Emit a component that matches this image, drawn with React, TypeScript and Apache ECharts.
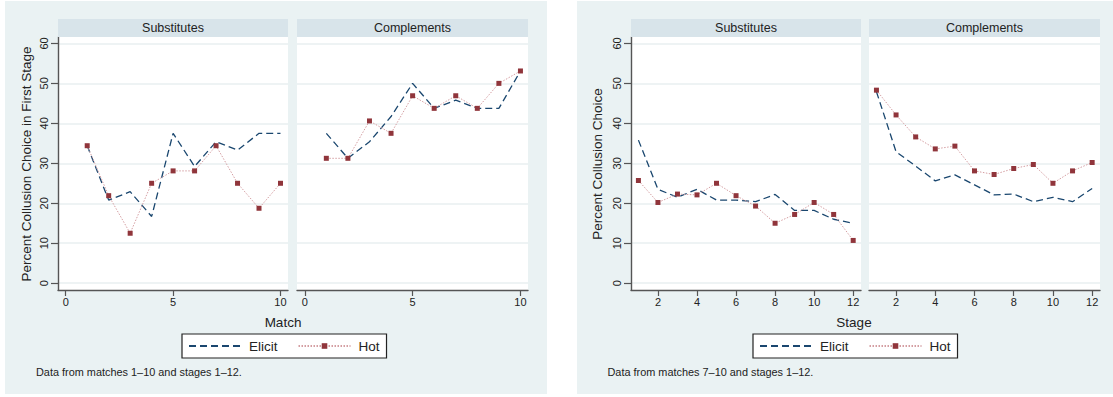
import React, { useEffect, useRef } from "react";
import * as echarts from "echarts";

// ---- data ----
const matches = [1, 2, 3, 4, 5, 6, 7, 8, 9, 10];
const stages = [1, 2, 3, 4, 5, 6, 7, 8, 9, 10, 11, 12];

const matchSubsElicit = [34.4, 20.8, 22.9, 16.7, 37.5, 29.2, 35.4, 33.3, 37.5, 37.5];
const matchSubsHot = [34.4, 21.9, 12.5, 25.0, 28.1, 28.1, 34.4, 25.0, 18.75, 25.0];
const matchCompElicit = [37.5, 31.25, 35.4, 41.7, 50.0, 43.75, 45.8, 43.75, 43.75, 53.1];
const matchCompHot = [31.25, 31.25, 40.6, 37.5, 46.9, 43.75, 46.9, 43.75, 50.0, 53.1];

const stageSubsElicit = [35.8, 23.5, 21.5, 23.5, 20.8, 20.8, 20.4, 22.2, 18.2, 18.2, 16.0, 15.0];
const stageSubsHot = [25.7, 20.2, 22.3, 22.1, 25.0, 21.9, 19.3, 15.0, 17.2, 20.2, 17.2, 10.7];
const stageCompElicit = [47.9, 32.9, 29.3, 25.6, 27.1, 24.6, 22.1, 22.3, 20.4, 21.5, 20.4, 23.7];
const stageCompHot = [48.3, 42.1, 36.6, 33.6, 34.3, 28.1, 27.2, 28.7, 29.7, 25.0, 28.1, 30.2];

const yTicks = [0, 10, 20, 30, 40, 50, 60];
const matchTicks = [0, 5, 10];
const stageTicks = [2, 4, 6, 8, 10, 12];

const panelTitles = ["Substitutes", "Complements", "Substitutes", "Complements"];
const seriesNames = ["Elicit", "Hot"];
const notes = ["Data from matches 1\u201310 and stages 1\u201312.", "Data from matches 7\u201310 and stages 1\u201312."];
const xTitles = ["Match", "Stage"];
const yTitles = ["Percent Collusion Choice in First Stage", "Percent Collusion Choice"];

// ---- styles ----
const FONT = '"Liberation Sans", Arial, Helvetica, sans-serif';
const BG = "#eaf2f3";
const STRIP = "#d8e4ea";
const GRIDLINE = "#e8eff1";
const AXIS = "#555";
const NAVY = "#1a476f";
const MAROON = "#90353b";

export default function App() {
  const ref = useRef<HTMLDivElement>(null);

  useEffect(() => {
    document.body.style.margin = "0";
    if (!ref.current) return;
    const chart = echarts.init(ref.current, undefined, { renderer: "svg" });

    const gridBoxes = [
      { left: 58, width: 230 },
      { left: 297, width: 231 },
      { left: 631, width: 230 },
      { left: 869, width: 231 },
    ];
    const top = 37;
    const height = 253;

    const grids = gridBoxes.map((g) => ({
      left: g.left,
      top,
      width: g.width,
      height,
      show: true,
      backgroundColor: "#fff",
      borderWidth: 0,
      containLabel: false,
      outerBoundsMode: "none",
    }));

    const xAxes = gridBoxes.map((_, i) => {
      const isMatch = i < 2;
      const ticks = isMatch ? matchTicks : stageTicks;
      return {
        type: "value",
        gridIndex: i,
        min: isMatch ? -0.36 : 0.62,
        max: isMatch ? 10.35 : 12.4,
        axisLine: { show: true, onZero: false, lineStyle: { color: AXIS, width: 1.4 } },
        axisTick: { show: true, length: 6, customValues: ticks, lineStyle: { color: AXIS, width: 1.2 } },
        axisLabel: { customValues: ticks, fontSize: 11, color: "#222", margin: 6, fontFamily: FONT },
        splitLine: { show: false },
      };
    });

    const yAxes = gridBoxes.map((_, i) => {
      const first = i % 2 === 0;
      return {
        type: "value",
        gridIndex: i,
        min: -1.7,
        max: 61.6,
        axisLine: { show: first, onZero: false, lineStyle: { color: AXIS, width: 1.4 } },
        axisTick: { show: first, length: 7, customValues: yTicks, lineStyle: { color: AXIS, width: 1.2 } },
        axisLabel: {
          show: first,
          customValues: yTicks,
          rotate: 90,
          fontSize: 11,
          color: "#222",
          margin: 9,
          fontFamily: FONT,
        },
        splitLine: { show: true, lineStyle: { color: GRIDLINE, width: 1.5 } },
      };
    });

    const sets = [
      [matches, matchSubsElicit, matchSubsHot],
      [matches, matchCompElicit, matchCompHot],
      [stages, stageSubsElicit, stageSubsHot],
      [stages, stageCompElicit, stageCompHot],
    ];

    const series: any[] = [];
    sets.forEach(([xs, el, hot], i) => {
      series.push({
        name: seriesNames[0],
        type: "line",
        xAxisIndex: i,
        yAxisIndex: i,
        data: xs.map((x, k) => [x, el[k]]),
        symbol: "none",
        lineStyle: { color: NAVY, width: 1.3, type: [7, 4] },
        itemStyle: { color: NAVY },
        z: 3,
      });
      series.push({
        name: seriesNames[1],
        type: "line",
        xAxisIndex: i,
        yAxisIndex: i,
        data: xs.map((x, k) => [x, hot[k]]),
        symbol: "rect",
        symbolSize: 5,
        lineStyle: { color: "#d49ea2", width: 1, type: [1.5, 1.5] },
        itemStyle: { color: MAROON },
        z: 4,
      });
    });

    const legendBase = {
      top: 334,
      orient: "horizontal",
      data: [
        { name: seriesNames[0], itemStyle: { color: "rgba(0,0,0,0)", borderWidth: 0, opacity: 0 } },
        { name: seriesNames[1] },
      ],
      itemWidth: 52,
      itemHeight: 7,
      itemGap: 20,
      padding: [5, 7, 5, 6],
      borderColor: "#222",
      borderWidth: 1.2,
      borderRadius: 0,
      backgroundColor: "#fff",
      selectedMode: false,
      textStyle: { fontSize: 13.5, color: "#222", fontFamily: FONT, padding: [0, 0, 0, 3] },
    };

    const graphic: any[] = [
      { type: "rect", z: -10, shape: { x: 5, y: 1, width: 542, height: 393 }, style: { fill: BG } },
      { type: "rect", z: -10, shape: { x: 577, y: 1, width: 536, height: 393 }, style: { fill: BG } },
    ];
    gridBoxes.forEach((g, i) => {
      graphic.push({
        type: "rect",
        z: 10,
        shape: { x: g.left, y: 19, width: g.width, height: 18 },
        style: { fill: STRIP },
      });
      graphic.push({
        type: "text",
        z: 11,
        x: g.left + g.width / 2,
        y: 28,
        style: {
          text: panelTitles[i],
          fontSize: 12.5,
          fontFamily: FONT,
          fill: "#222",
          textAlign: "center",
          textVerticalAlign: "middle",
        },
      });
    });
    const xTitlePos = [283, 854];
    const yTitlePos = [26.5, 597];
    const notePos = [36, 607.5];
    [0, 1].forEach((p) => {
      graphic.push({
        type: "text",
        z: 11,
        x: xTitlePos[p],
        y: 322,
        style: { text: xTitles[p], fontSize: 13.5, fontFamily: FONT, fill: "#222", textAlign: "center", textVerticalAlign: "middle" },
      });
      graphic.push({
        type: "text",
        z: 11,
        x: yTitlePos[p],
        y: 164,
        rotation: Math.PI / 2,
        style: { text: yTitles[p], fontSize: 13.5, fontFamily: FONT, fill: "#222", textAlign: "center", textVerticalAlign: "middle" },
      });
      graphic.push({
        type: "text",
        z: 11,
        x: notePos[p],
        y: 372,
        style: { text: notes[p], fontSize: 10.9, fontFamily: FONT, fill: "#222", textAlign: "left", textVerticalAlign: "middle" },
      });
    });

    chart.setOption({
      animation: false,
      backgroundColor: "#fff",
      grid: grids,
      xAxis: xAxes,
      yAxis: yAxes,
      legend: [
        { ...legendBase, left: 182 },
        { ...legendBase, left: 753 },
      ],
      graphic,
      series,
    } as any);

    return () => chart.dispose();
  }, []);

  return <div ref={ref} style={{ width: 1113, height: 397 }} />;
}
